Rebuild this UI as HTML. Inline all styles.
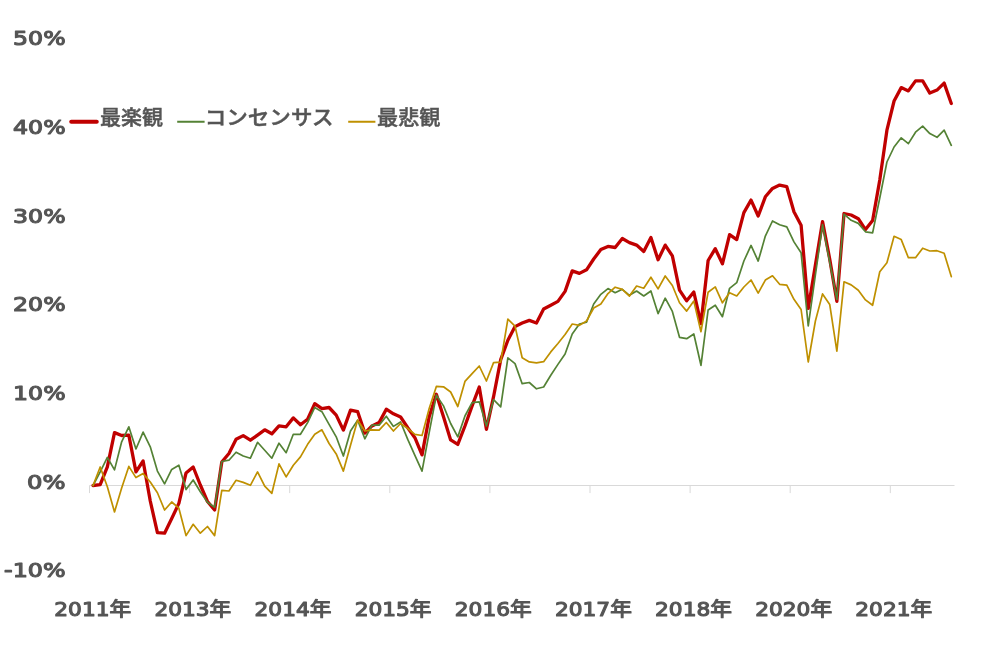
<!DOCTYPE html>
<html lang="ja"><head><meta charset="utf-8"><title>chart</title>
<style>
html,body{margin:0;padding:0;background:#fff;}
svg{display:block;}
.ax text{font-family:"DejaVu Sans","Liberation Sans","Noto Sans CJK JP",sans-serif;font-weight:normal;font-size:19px;fill:#555;stroke:#555;stroke-width:1.1px;stroke-linejoin:round;}
.lg text{font-family:"Liberation Sans","Noto Sans CJK JP",sans-serif;font-weight:500;font-size:20px;fill:#555;stroke:#555;stroke-width:0.45px;}
</style></head><body>
<svg width="987" height="654" viewBox="0 0 987 654">
<rect width="987" height="654" fill="#fff"/>
<g stroke="#d9d9d9" stroke-width="1" fill="none"><line x1="89.5" y1="485.5" x2="954.5" y2="485.5"/><line x1="89.50" y1="485.5" x2="89.50" y2="493.1"/><line x1="189.60" y1="485.5" x2="189.60" y2="493.1"/><line x1="289.70" y1="485.5" x2="289.70" y2="493.1"/><line x1="389.80" y1="485.5" x2="389.80" y2="493.1"/><line x1="489.90" y1="485.5" x2="489.90" y2="493.1"/><line x1="590.00" y1="485.5" x2="590.00" y2="493.1"/><line x1="690.10" y1="485.5" x2="690.10" y2="493.1"/><line x1="790.20" y1="485.5" x2="790.20" y2="493.1"/><line x1="890.30" y1="485.5" x2="890.30" y2="493.1"/></g>
<g fill="none" stroke-linejoin="round" stroke-linecap="round">
<polyline stroke="#c00000" stroke-width="3.3" points="93.05,485.5 100.20,484.7 107.35,466.9 114.51,432.6 121.66,435.5 128.81,435.1 135.96,471.9 143.11,461.0 150.27,501.0 157.42,532.7 164.57,533.2 171.72,518.5 178.87,503.4 186.03,473.0 193.18,467.0 200.33,485.0 207.48,501.5 214.63,510.0 221.79,462.0 228.94,453.5 236.09,439.3 243.24,435.6 250.39,440.2 257.55,435.1 264.70,429.8 271.85,433.8 279.00,425.9 286.15,426.8 293.31,417.9 300.46,424.8 307.61,419.2 314.76,403.7 321.91,408.7 329.07,407.5 336.22,415.1 343.37,430.1 350.52,410.1 357.67,411.7 364.83,433.1 371.98,425.9 379.13,422.6 386.28,409.2 393.43,413.8 400.59,417.0 407.74,427.7 414.89,437.7 422.04,454.9 429.19,416.8 436.35,394.2 443.50,416.8 450.65,439.9 457.80,444.4 464.95,426.0 472.11,405.9 479.26,387.0 486.41,429.3 493.56,396.7 500.71,359.6 507.87,340.2 515.02,326.6 522.17,323.0 529.32,320.4 536.47,323.0 543.63,309.0 550.78,305.3 557.93,301.4 565.08,291.4 572.23,270.9 579.39,273.4 586.54,269.8 593.69,259.0 600.84,249.6 607.99,246.4 615.15,247.5 622.30,238.5 629.45,242.6 636.60,245.1 643.75,251.4 650.91,237.5 658.06,259.8 665.21,245.1 672.36,255.9 679.51,290.2 686.67,300.8 693.82,292.0 700.97,323.6 708.12,260.5 715.27,248.7 722.43,263.8 729.58,234.7 736.73,239.6 743.88,212.6 751.03,200.1 758.19,216.0 765.34,196.8 772.49,188.4 779.64,185.1 786.79,186.7 793.95,211.8 801.10,225.2 808.25,308.4 815.40,265.0 822.55,221.6 829.71,259.0 836.86,301.3 844.01,213.5 851.16,215.0 858.31,218.7 865.47,229.6 872.62,220.5 879.77,180.0 886.92,130.2 894.07,101.0 901.23,87.6 908.38,90.9 915.53,80.9 922.68,80.9 929.83,93.1 936.99,90.1 944.14,83.1 951.29,103.5"/>
<polyline stroke="#548235" stroke-width="1.7" points="93.05,485.5 100.20,471.9 107.35,457.4 114.51,469.9 121.66,441.8 128.81,426.8 135.96,449.0 143.11,432.1 150.27,446.8 157.42,471.1 164.57,483.8 171.72,469.4 178.87,465.2 186.03,489.6 193.18,480.0 200.33,491.8 207.48,502.3 214.63,507.3 221.79,461.5 228.94,460.2 236.09,452.2 243.24,456.0 250.39,458.2 257.55,442.3 264.70,450.2 271.85,458.2 279.00,443.2 286.15,452.7 293.31,434.3 300.46,434.3 307.61,422.6 314.76,407.5 321.91,411.7 329.07,424.3 336.22,436.8 343.37,456.0 350.52,431.0 357.67,420.1 364.83,438.8 371.98,425.1 379.13,425.1 386.28,416.2 393.43,426.4 400.59,422.0 407.74,439.4 414.89,455.3 422.04,471.2 429.19,432.7 436.35,395.1 443.50,405.9 450.65,423.5 457.80,436.9 464.95,416.0 472.11,402.6 479.26,401.8 486.41,426.0 493.56,399.7 500.71,406.8 507.87,357.8 515.02,363.6 522.17,383.7 529.32,382.5 536.47,388.8 543.63,387.0 550.78,375.3 557.93,364.4 565.08,354.0 572.23,334.0 579.39,324.0 586.54,322.2 593.69,304.0 600.84,294.3 607.99,288.6 615.15,292.7 622.30,289.3 629.45,295.3 636.60,291.0 643.75,296.0 650.91,291.0 658.06,313.6 665.21,298.2 672.36,311.4 679.51,337.3 686.67,338.7 693.82,334.0 700.97,365.3 708.12,310.0 715.27,305.2 722.43,316.7 729.58,288.3 736.73,282.7 743.88,261.0 751.03,245.4 758.19,261.1 765.34,236.1 772.49,221.0 779.64,224.8 786.79,226.9 793.95,241.9 801.10,252.8 808.25,326.0 815.40,275.0 822.55,224.7 829.71,262.0 836.86,299.5 844.01,214.2 851.16,220.3 858.31,223.4 865.47,231.8 872.62,232.9 879.77,198.0 886.92,162.0 894.07,147.0 901.23,137.8 908.38,143.6 915.53,132.2 922.68,126.1 929.83,133.6 936.99,137.3 944.14,130.2 951.29,145.3"/>
<polyline stroke="#bf9000" stroke-width="1.7" points="93.05,485.5 100.20,467.0 107.35,486.8 114.51,512.0 121.66,488.0 128.81,466.4 135.96,477.6 143.11,473.6 150.27,482.0 157.42,492.7 164.57,510.0 171.72,502.0 178.87,508.2 186.03,535.6 193.18,524.3 200.33,533.2 207.48,526.5 214.63,535.6 221.79,490.3 228.94,491.0 236.09,480.3 243.24,482.4 250.39,485.3 257.55,471.9 264.70,486.1 271.85,493.3 279.00,463.9 286.15,476.9 293.31,465.2 300.46,456.9 307.61,444.3 314.76,434.3 321.91,429.8 329.07,443.5 336.22,453.9 343.37,471.1 350.52,445.2 357.67,420.1 364.83,431.0 371.98,429.8 379.13,430.1 386.28,422.5 393.43,431.0 400.59,423.5 407.74,428.5 414.89,434.4 422.04,435.5 429.19,408.4 436.35,386.4 443.50,386.8 450.65,392.0 457.80,406.5 464.95,381.4 472.11,373.6 479.26,366.0 486.41,381.0 493.56,362.6 500.71,362.2 507.87,319.1 515.02,326.1 522.17,357.8 529.32,361.9 536.47,362.8 543.63,361.7 550.78,351.9 557.93,343.5 565.08,334.5 572.23,324.0 579.39,325.4 586.54,321.0 593.69,308.0 600.84,304.0 607.99,293.6 615.15,287.2 622.30,289.4 629.45,296.1 636.60,286.0 643.75,288.2 650.91,277.2 658.06,288.9 665.21,276.0 672.36,285.5 679.51,302.8 686.67,311.1 693.82,301.1 700.97,331.7 708.12,292.2 715.27,286.9 722.43,302.8 729.58,292.7 736.73,296.0 743.88,287.0 751.03,280.0 758.19,293.1 765.34,280.1 772.49,275.8 779.64,284.3 786.79,285.1 793.95,299.3 801.10,309.5 808.25,362.0 815.40,321.0 822.55,293.9 829.71,304.4 836.86,351.2 844.01,281.8 851.16,284.9 858.31,290.2 865.47,299.9 872.62,305.3 879.77,271.8 886.92,262.8 894.07,236.3 901.23,239.6 908.38,257.7 915.53,257.7 922.68,248.2 929.83,251.0 936.99,250.7 944.14,253.2 951.29,276.6"/>
</g>
<g class="ax"><text x="65.6" y="45.2" text-anchor="end" textLength="52.5" lengthAdjust="spacingAndGlyphs">50%</text><text x="65.6" y="133.9" text-anchor="end" textLength="52.5" lengthAdjust="spacingAndGlyphs">40%</text><text x="65.6" y="222.6" text-anchor="end" textLength="52.5" lengthAdjust="spacingAndGlyphs">30%</text><text x="65.6" y="311.2" text-anchor="end" textLength="52.5" lengthAdjust="spacingAndGlyphs">20%</text><text x="65.6" y="399.9" text-anchor="end" textLength="52.5" lengthAdjust="spacingAndGlyphs">10%</text><text x="65.6" y="488.6" text-anchor="end" textLength="38.5" lengthAdjust="spacingAndGlyphs">0%</text><text x="65.6" y="577.3" text-anchor="end" textLength="61.5" lengthAdjust="spacingAndGlyphs">-10%</text><text x="92.75" y="615.6" text-anchor="middle" textLength="76.9" lengthAdjust="spacingAndGlyphs">2011年</text><text x="192.88" y="615.6" text-anchor="middle" textLength="76.9" lengthAdjust="spacingAndGlyphs">2013年</text><text x="293.01" y="615.6" text-anchor="middle" textLength="76.9" lengthAdjust="spacingAndGlyphs">2014年</text><text x="393.13" y="615.6" text-anchor="middle" textLength="76.9" lengthAdjust="spacingAndGlyphs">2015年</text><text x="493.26" y="615.6" text-anchor="middle" textLength="76.9" lengthAdjust="spacingAndGlyphs">2016年</text><text x="593.39" y="615.6" text-anchor="middle" textLength="76.9" lengthAdjust="spacingAndGlyphs">2017年</text><text x="693.52" y="615.6" text-anchor="middle" textLength="76.9" lengthAdjust="spacingAndGlyphs">2018年</text><text x="793.65" y="615.6" text-anchor="middle" textLength="76.9" lengthAdjust="spacingAndGlyphs">2020年</text><text x="893.77" y="615.6" text-anchor="middle" textLength="76.9" lengthAdjust="spacingAndGlyphs">2021年</text></g>
<g class="lg">
<line x1="71.3" y1="121.75" x2="96.7" y2="121.75" stroke="#c00000" stroke-width="4.2" stroke-linecap="round"/>
<text x="100" y="124.6" textLength="63" lengthAdjust="spacingAndGlyphs">最楽観</text>
<line x1="177.2" y1="121.75" x2="204.6" y2="121.75" stroke="#548235" stroke-width="2" stroke-linecap="butt"/>
<text x="204.8" y="124.6" textLength="128.7" lengthAdjust="spacingAndGlyphs">コンセンサス</text>
<line x1="348.2" y1="121.75" x2="375.4" y2="121.75" stroke="#bf9000" stroke-width="2" stroke-linecap="butt"/>
<text x="377.1" y="124.6" textLength="63.4" lengthAdjust="spacingAndGlyphs">最悲観</text>
</g>
</svg>
</body></html>
